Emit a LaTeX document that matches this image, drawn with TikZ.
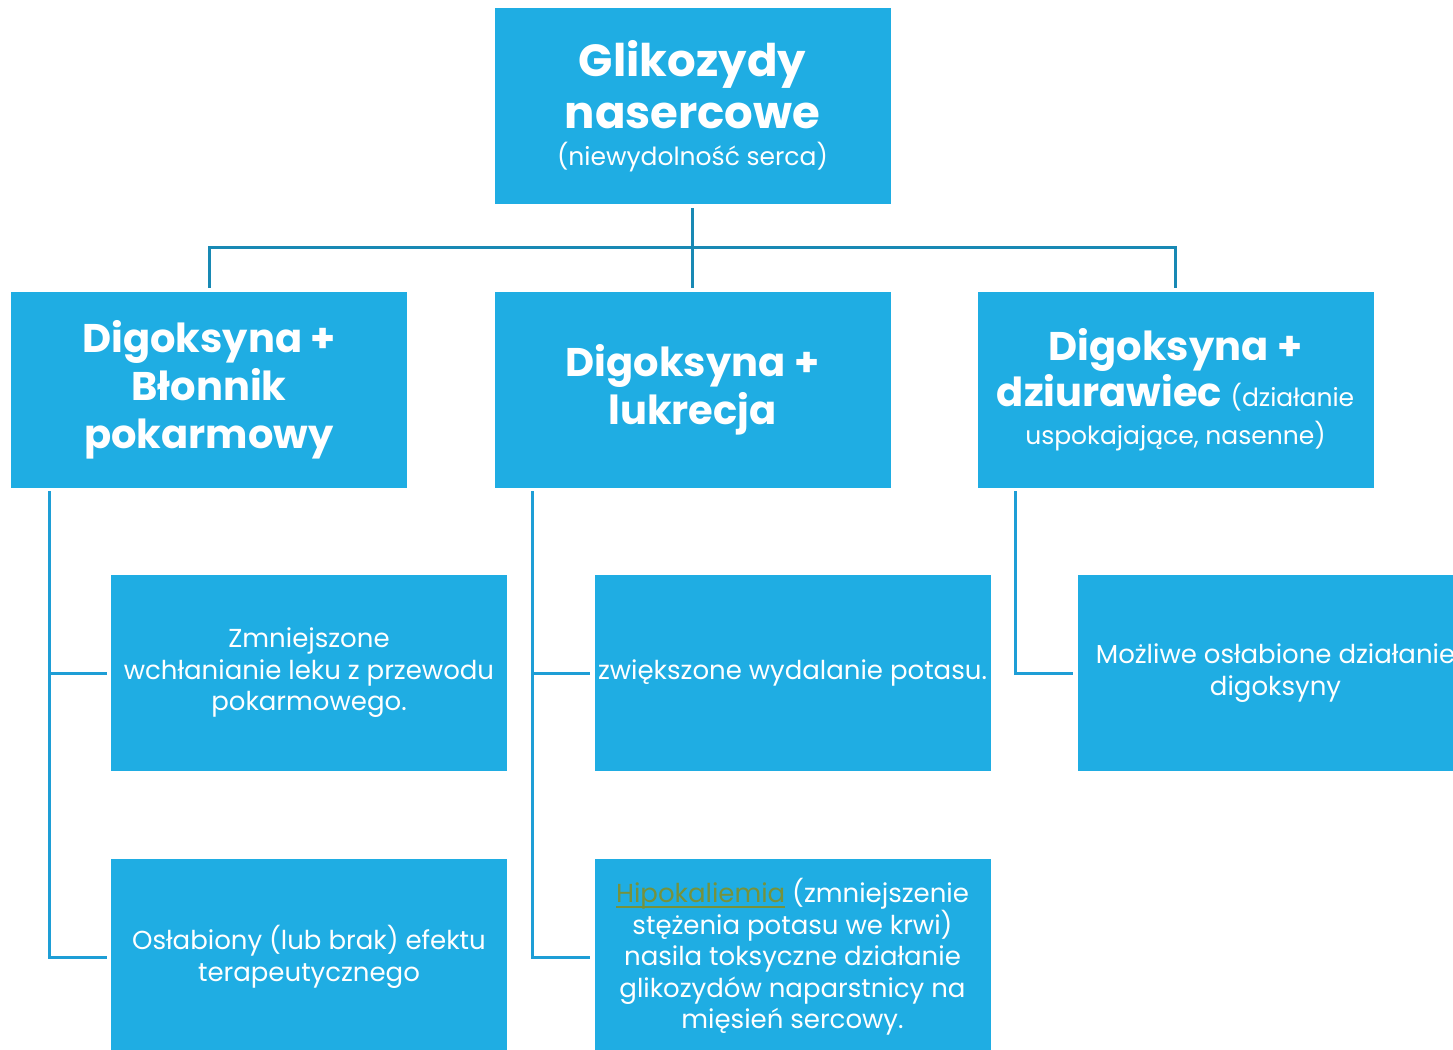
\documentclass[tikz,border=0pt]{standalone}
\usepackage{fontspec}
\setmainfont{Poppins}
\definecolor{boxblue}{RGB}{31,173,227}
\definecolor{topline}{RGB}{24,137,180}
\definecolor{sideline}{RGB}{30,158,214}
\definecolor{linkgreen}{RGB}{118,146,60}
\newcommand{\headfont}{\fontsize{40}{48}\selectfont\bfseries}
\newcommand{\smallfont}{\fontsize{25}{32}\selectfont\mdseries}
\newcommand{\bodyfont}{\fontsize{26}{31.5}\selectfont}
\newcommand{\linkword}[1]{\textcolor{linkgreen}{\setbox0\hbox{#1}\rlap{\rule[-5pt]{\wd0}{1.6pt}}\box0}}
\begin{document}
\begin{tikzpicture}[x=1pt,y=-1pt,
  gbox/.style={rectangle,fill=boxblue,text=white,minimum width=396pt,
    minimum height=196pt,align=center,inner sep=0pt,font=\bodyfont},
  conn/.style={draw=topline,line width=3pt},
  branch/.style={draw=sideline,line width=3pt}]
  \useasboundingbox (0,0) rectangle (1453,1049);
  \clip (0,0) rectangle (1453,1049);

  % top
  \node[gbox,font=\fontsize{45}{52}\selectfont\bfseries] (glik) at (692.5,106)
    {Glikozydy\\nasercowe\\[-15pt]\smallfont (niewydolność serca)};

  % second row
  \node[gbox,font=\headfont] (blon) at (209,390) {Digoksyna +\\Błonnik\\pokarmowy};
  \node[gbox,font=\headfont] (lukr) at (692.5,390) {Digoksyna +\\lukrecja};
  \node[gbox,font=\headfont] (dziur) at (1175.5,390)
    {Digoksyna +\\[-2pt]dziurawiec \smallfont (działanie\\[-10pt]
     \smallfont uspokajające, nasenne)};

  % children
  \node[gbox] (blona) at (309,673)
    {Zmniejszone\\wchłanianie leku z przewodu\\pokarmowego.};
  \node[gbox] (blonb) at (309,957)
    {Osłabiony (lub brak) efektu\\terapeutycznego};
  \node[gbox] (lukra) at (792.5,673)
    {zwiększone wydalanie potasu.};
  \node[gbox] (lukrb) at (792.5,957)
    {\linkword{Hipokaliemia} (zmniejszenie\\
     stężenia potasu we krwi)\\nasila toksyczne działanie\\
     glikozydów naparstnicy na\\mięsień sercowy.};
  \node[gbox] (dziura) at (1275.5,673)
    {Możliwe osłabione działanie\\digoksyny};

  % connectors
  \draw[conn] ([yshift=-4pt]glik.south) -- ([yshift=4pt]lukr.north);
  \draw[conn] ([yshift=4pt]blon.north) |- (692.5,247) -| ([yshift=4pt]dziur.north);

  \draw[branch] ([xshift=39pt,yshift=-3pt]blon.south west) |- ([xshift=-4pt]blonb.west);
  \draw[branch] ([xshift=39pt]blon.south west |- blona.west) -- ([xshift=-4pt]blona.west);
  \draw[branch] ([xshift=38pt,yshift=-3pt]lukr.south west) |- ([xshift=-4pt]lukrb.west);
  \draw[branch] ([xshift=38pt]lukr.south west |- lukra.west) -- ([xshift=-4pt]lukra.west);
  \draw[branch] ([xshift=38pt,yshift=-3pt]dziur.south west) |- ([xshift=-4pt]dziura.west);
\end{tikzpicture}
\end{document}
